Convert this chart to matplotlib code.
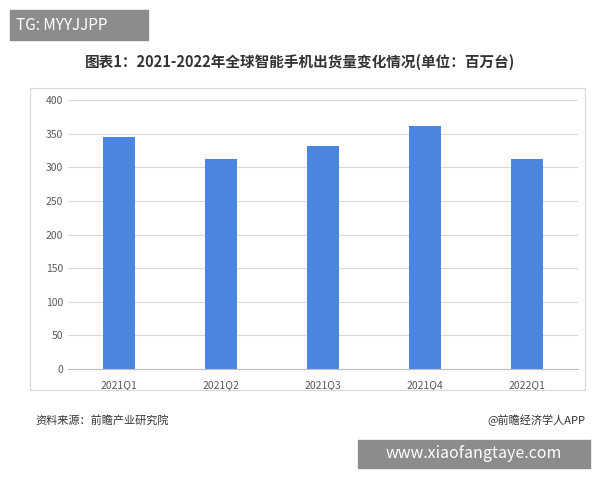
import matplotlib
matplotlib.use("Agg")
import matplotlib.pyplot as plt
from matplotlib.patches import Rectangle

plt.rcParams['font.family'] = ['Noto Sans CJK SC', 'DejaVu Sans']

# --- data ---
quarters = ["2021Q1", "2021Q2", "2021Q3", "2021Q4", "2022Q1"]
shipments = [345, 313, 331, 362, 313]
yticks = [0, 50, 100, 150, 200, 250, 300, 350, 400]

W, H = 600, 480
fig = plt.figure(figsize=(6, 4.8), dpi=100)

def fx(x): return x / W
def fy(y): return 1 - y / H

# outer chart frame
fig.patches.append(Rectangle((fx(30), fy(390)), fx(585) - fx(30), fy(88) - fy(390),
                             transform=fig.transFigure, fill=False, ec="#d9d9d9", lw=0.8))

ax = fig.add_axes([fx(68), fy(369), fx(578) - fx(68), fy(100) - fy(369)])
ax.bar(quarters, shipments, width=0.32, color="#4a86e0")
ax.set_ylim(0, 400)
ax.set_yticks(yticks)
ax.set_xlim(-0.5, 4.5)
ax.grid(axis="y", color="#d9d9d9", lw=0.8)
ax.set_axisbelow(True)
for s in ["top", "right", "left"]:
    ax.spines[s].set_visible(False)
ax.spines["bottom"].set_color("#bfbfbf")
ax.tick_params(length=0, labelsize=7.5, colors="#595959")
ax.tick_params(axis="x", pad=8)

fig.text(0.5, fy(62), "图表1：2021-2022年全球智能手机出货量变化情况(单位：百万台)",
         ha="center", va="center", fontsize=10.5, fontweight="bold", color="#333333")
fig.text(fx(35), fy(420), "资料来源：前瞻产业研究院", ha="left", va="center", fontsize=8, color="#333333")
fig.text(fx(585), fy(420), "@前瞻经济学人APP", ha="right", va="center", fontsize=8, color="#333333")

# watermark boxes
fig.patches.append(Rectangle((fx(10), fy(40)), fx(148) - fx(10), fy(10) - fy(40),
                             transform=fig.transFigure, color="#8c8c8c"))
fig.text(fx(16), fy(25), "TG: MYYJJPP", ha="left", va="center", fontsize=11, color="white")
fig.patches.append(Rectangle((fx(358), fy(468)), fx(590) - fx(358), fy(440) - fy(468),
                             transform=fig.transFigure, color="#8c8c8c"))
fig.text(fx(474), fy(454), "www.xiaofangtaye.com", ha="center", va="center", fontsize=11.5, color="white")

fig.savefig("out.png", dpi=100, facecolor="white")
